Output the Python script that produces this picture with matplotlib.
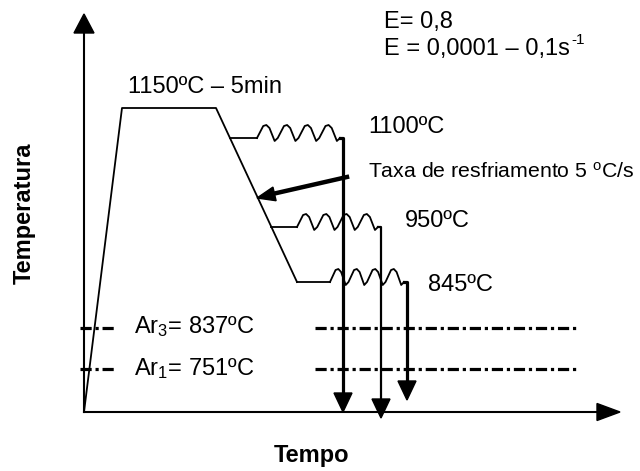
import matplotlib
matplotlib.use("Agg")
import matplotlib.pyplot as plt
from matplotlib.patches import Polygon
import numpy as np

plt.rcParams['font.family'] = ['Liberation Sans', 'DejaVu Sans']
plt.rcParams['mathtext.fontset'] = 'custom'
plt.rcParams['mathtext.rm'] = 'Liberation Sans'
plt.rcParams['mathtext.it'] = 'Liberation Sans:italic'
plt.rcParams['mathtext.bf'] = 'Liberation Sans:bold'

# Schematic layout (drawing units: x = tempo, y = temperatura, y grows downward)
origin = (84, 412)
axis_ends = (620, 14)                      # x-axis tip, y-axis tip
soak_start = (122, 108)                    # end of heating ramp
soak_end = (216, 108)                      # end of 1150 ºC hold
cool_end = (297, 282)                      # end of cooling ramp
deform_levels = [138, 227, 282]            # 1100, 950, 845 ºC passes
deform_labels = ["1100ºC", "950ºC", "845ºC"]
spring_start = [257, 297, 330]
quench_x = [343, 381, 407]
quench_tip = [412, 418, 400]
quench_lw = [2.3, 1.6, 2.3]
ar_levels = [328, 369]
ar_labels = ["Ar$_{\\mathregular{3}}$= 837ºC", "Ar$_{\\mathregular{1}}$= 751ºC"]
ar_left = (80, 115)
ar_right = (315, 576)

fig = plt.figure(figsize=(6.4, 4.71), dpi=100)
ax = fig.add_axes([0, 0, 1, 1])
ax.set_xlim(0, 640)
ax.set_ylim(471, 0)
ax.axis('off')


def head(tip, direction, length, half_w):
    tx, ty = tip
    dx, dy = direction
    n = np.hypot(dx, dy)
    dx, dy = dx / n, dy / n
    bx, by = tx - dx * length, ty - dy * length
    px, py = -dy, dx
    ax.add_patch(Polygon([(tx, ty), (bx + px * half_w, by + py * half_w),
                          (bx - px * half_w, by - py * half_w)],
                         closed=True, color='black', zorder=5))


def spring(x0, x1, y, n=4, up=12, down=3):
    xs, ys = [x0], [y]
    step = (x1 - x0) / n
    for i in range(n):
        a = x0 + i * step
        xs += [a + step * 0.3, a + step * 0.45, a + step * 0.6, a + step * 0.85, a + step]
        ys += [y - up, y - up - 1, y - up + 2, y + down, y]
    return xs, ys


# axes with arrows
ax.plot([origin[0], axis_ends[0] - 10], [origin[1], origin[1]], color='black', lw=1.5)
ax.plot([origin[0], origin[0]], [origin[1], axis_ends[1] + 10], color='black', lw=1.5)
head((axis_ends[0], origin[1]), (1, 0), 23, 8.5)
head((origin[0], axis_ends[1]), (0, -1), 19, 10)

# heating, hold and cooling ramp
ax.plot([origin[0], soak_start[0], soak_end[0], cool_end[0]],
        [origin[1], soak_start[1], soak_end[1], cool_end[1]],
        color='black', lw=1.3)

# deformation passes and quenches
for lvl, sx, qx, tip, lw in zip(deform_levels, spring_start, quench_x, quench_tip, quench_lw):
    x_ramp = soak_end[0] + (lvl - soak_end[1]) / (cool_end[1] - soak_end[1]) * (cool_end[0] - soak_end[0])
    ax.plot([x_ramp, sx], [lvl, lvl], color='black', lw=1.3)
    xs, ys = spring(sx, qx - 3, lvl)
    ax.plot(xs, ys, color='black', lw=1.3)
    ax.plot([qx - 3, qx, qx], [lvl, lvl, tip - 12], color='black', lw=lw)
    head((qx, tip), (0, 1), 19, 9)

# Ar3 / Ar1 lines
for lvl in ar_levels:
    for seg in (ar_left, ar_right):
        ax.plot(seg, [lvl, lvl], color='black', lw=2.3,
                linestyle=(0, (3.5, 1.2, 1.0, 1.2)), solid_capstyle='butt',
                dash_capstyle='butt')

# cooling rate arrow
ax.plot([347, 268], [177, 195], color='black', lw=3.2)
head((257, 198), (-90, 21), 18, 7)

fs = 17
ax.text(128, 93, "1150ºC – 5min", fontsize=fs, va='baseline')
for lvl, lab, x, base in zip(deform_levels, deform_labels, [368, 405, 428], [133, 227, 291]):
    ax.text(x, base, lab, fontsize=fs, va='baseline')
ax.text(368, 178, "Taxa de resfriamento 5 $^{\\mathregular{o}}$C/s", fontsize=15.3, va='baseline')
ax.text(384, 28, "E= 0,8", fontsize=fs, va='baseline')
rate = ax.text(384, 55, "E = 0,0001 – 0,1s", fontsize=fs, va='baseline')

# superscript "-1" placed right after the strain-rate text
fig.canvas.draw()
bb = rate.get_window_extent(renderer=fig.canvas.get_renderer())
x_end = ax.transData.inverted().transform((bb.x1, bb.y0))[0]
ax.text(x_end + 1, 44, "-1", fontsize=11, va='baseline')

for lab, base in zip(ar_labels, [333, 375]):
    ax.text(134, base, lab, fontsize=fs, va='baseline')
ax.text(24, 213, "Temperatura", fontsize=fs, fontweight='bold', rotation=90,
        ha='center', va='center')
ax.text(274, 462, "Tempo", fontsize=fs, fontweight='bold', va='baseline')

fig.savefig("out.png", dpi=100)
